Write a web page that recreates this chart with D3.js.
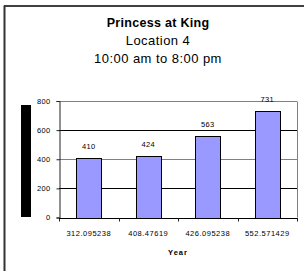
<!DOCTYPE html>
<html>
<head>
<meta charset="utf-8">
<script src="https://cdn.jsdelivr.net/npm/d3@7"></script>
<style>
  html, body { margin: 0; padding: 0; background: #fff; }
  svg { display: block; font-family: "Liberation Sans", Arial, sans-serif; }
</style>
</head>
<body>
<svg id="chart" width="304" height="271"></svg>
<script>
// chart data
const categories = ['312.095238', '408.47619', '426.095238', '552.571429']
const values = [410, 424, 563, 731]
const yTicks = [0, 200, 400, 600, 800]
const titleLines = ['Princess at King', 'Location 4', '10:00 am to 8:00 pm']
const xTitle = 'Year'

const W = 304, H = 271
const plot = { left: 59, right: 297, top: 101, bottom: 217.5 }

const svg = d3.select('#chart')

// outer frame (only top and left edges visible)
svg.append('line')
  .attr('x1', 4).attr('y1', 6).attr('x2', W).attr('y2', 6)
  .attr('stroke', '#000').attr('stroke-width', 1.5)
svg.append('line')
  .attr('x1', 4.5).attr('y1', 5.5).attr('x2', 4.5).attr('y2', H)
  .attr('stroke', '#333').attr('stroke-width', 2)

// titles
const titleG = svg.append('g').attr('text-anchor', 'middle')
titleLines.forEach((t, i) => {
  titleG.append('text')
    .attr('x', 158)
    .attr('y', 27 + i * 18)
    .attr('font-size', i === 0 ? 12.5 : 13)
    .attr('font-weight', i === 0 ? 'bold' : 'normal')
    .attr('letter-spacing', i === 0 ? 0.3 : 0.45)
    .attr('fill', '#000')
    .text(t)
})

// black block on the left
svg.append('rect')
  .attr('x', 21).attr('y', 105).attr('width', 10).attr('height', 112)
  .attr('fill', '#000')

const x = d3.scaleBand()
  .domain(categories)
  .range([plot.left, plot.right])
  .paddingInner(0.58)
  .paddingOuter(0.29)

const y = d3.scaleLinear()
  .domain([0, 800])
  .range([plot.bottom, plot.top])

// gridlines
svg.append('g').selectAll('line')
  .data(yTicks.filter(d => d > 0))
  .join('line')
  .attr('x1', plot.left).attr('x2', plot.right)
  .attr('y1', d => Math.round(y(d)) + 0.5).attr('y2', d => Math.round(y(d)) + 0.5)
  .attr('stroke', d => (d === 600 || d === 200) ? '#000' : '#808080')
  .attr('stroke-width', 1)

// right edge of plot area
svg.append('line')
  .attr('x1', plot.right + 0.5).attr('x2', plot.right + 0.5)
  .attr('y1', Math.round(y(800)) + 0.5).attr('y2', plot.bottom)
  .attr('stroke', '#808080')

// bars
svg.append('g').selectAll('rect')
  .data(values)
  .join('rect')
  .attr('x', (d, i) => Math.round(x(categories[i])) + 0.5)
  .attr('y', d => Math.round(y(d)) + 0.5)
  .attr('width', Math.round(x.bandwidth()))
  .attr('height', d => Math.round(y(0)) - Math.round(y(d)))
  .attr('fill', '#9999ff')
  .attr('stroke', '#000')
  .attr('stroke-width', 1)

// value labels
svg.append('g').attr('text-anchor', 'middle').selectAll('text')
  .data(values)
  .join('text')
  .attr('x', (d, i) => x(categories[i]) + x.bandwidth() / 2)
  .attr('y', d => y(d) - 9)
  .attr('font-size', 7.5)
  .attr('letter-spacing', 0.3)
  .attr('fill', '#000')
  .text(d => d)

// y axis
const yAxis = d3.axisLeft(y).tickValues(yTicks).tickSize(3).tickPadding(6)
const gy = svg.append('g')
  .attr('transform', `translate(${plot.left + 0.5},0)`)
  .call(yAxis)
gy.select('.domain').attr('stroke', '#222')
gy.selectAll('.tick line').attr('stroke', '#222')
gy.selectAll('.tick text')
  .attr('font-family', '"Liberation Sans", Arial, sans-serif')
  .attr('font-size', 7.5)
  .attr('letter-spacing', 0.3)
  .attr('fill', '#000')

// x axis line and boundary ticks
const gx = svg.append('g')
gx.append('line')
  .attr('x1', plot.left).attr('x2', plot.right + 1)
  .attr('y1', Math.round(y(0)) + 0.5).attr('y2', Math.round(y(0)) + 0.5)
  .attr('stroke', '#000')
const step = x.step()
gx.selectAll('line.tick')
  .data(d3.range(categories.length + 1))
  .join('line')
  .attr('class', 'tick')
  .attr('x1', i => Math.round(plot.left + i * step) + 0.5)
  .attr('x2', i => Math.round(plot.left + i * step) + 0.5)
  .attr('y1', Math.round(y(0)) + 0.5)
  .attr('y2', Math.round(y(0)) + 3.5)
  .attr('stroke', '#222')
gx.selectAll('text')
  .data(categories)
  .join('text')
  .attr('x', d => x(d) + x.bandwidth() / 2)
  .attr('y', 235.5)
  .attr('text-anchor', 'middle')
  .attr('font-size', 7.5)
  .attr('letter-spacing', 0.5)
  .attr('fill', '#000')
  .text(d => d)

// x axis title
svg.append('text')
  .attr('x', (plot.left + plot.right) / 2)
  .attr('y', 254.5)
  .attr('text-anchor', 'middle')
  .attr('font-size', 7.5)
  .attr('font-weight', 'bold')
  .attr('letter-spacing', 1)
  .attr('fill', '#000')
  .text(xTitle)
</script>
</body>
</html>
